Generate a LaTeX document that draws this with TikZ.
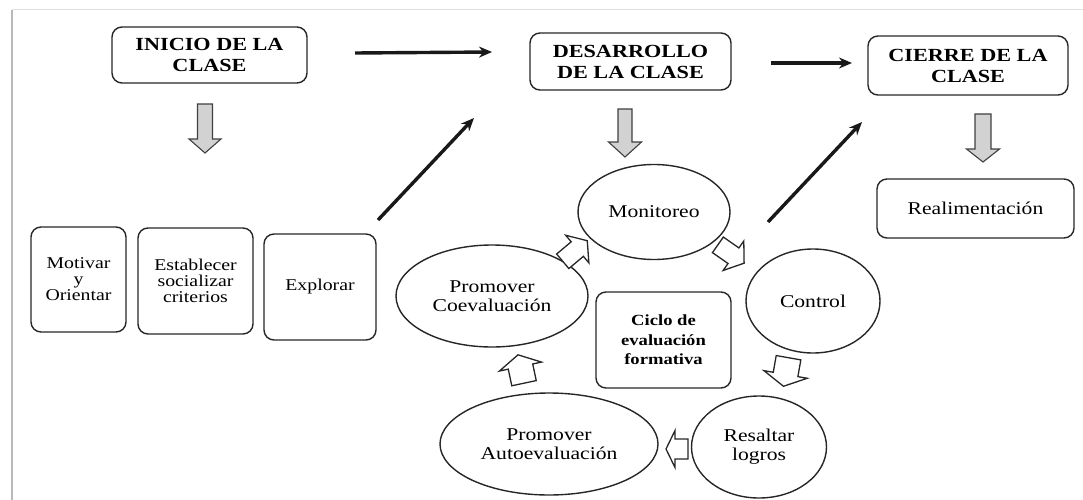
\documentclass[tikz,border=0pt]{standalone}
\usepackage{fontspec}
\setmainfont{Liberation Serif}[FakeStretch=1.2]
\usetikzlibrary{arrows.meta,shapes.geometric}
\newcommand\blkarrow[8]{% #1 style, #2 x, #3 y, #4 angle, #5 length, #6 shaft width, #7 head width, #8 head length
  \draw[#1,shift={(#2,#3)},rotate=#4] ({-#5/2},{-#6/2}) -- ({#5/2-#8},{-#6/2}) -- ({#5/2-#8},{-#7/2}) -- ({#5/2},0) -- ({#5/2-#8},{#7/2}) -- ({#5/2-#8},{#6/2}) -- ({-#5/2},{#6/2}) -- cycle;}
\begin{document}
\begin{tikzpicture}[x=1pt,y=-1pt,
  rbox/.style={draw=black!85, line width=1.4pt, rounded corners=10pt, inner sep=0pt, align=center, text=black, font=\fontsize{16.5}{16}\selectfont},
  title/.style={rbox, font=\bfseries\fontsize{18.5}{21}\selectfont},
  ell/.style={draw=black!85, line width=1.4pt, ellipse, inner sep=0pt, align=center, text=black, font=\fontsize{18}{19}\selectfont},
  flow/.style={line width=3.4pt, black!90, -{Stealth[length=13pt,width=11pt]}},
  grayarr/.style={draw=black!75, line width=1.1pt, fill=gray!35},
  hollow/.style={draw=black!85, line width=1.3pt, fill=white, line join=miter}
]
\useasboundingbox (0,0) rectangle (1083,500);
% frame
\draw[gray!25, line width=1pt] (12,10) -- (1083,10);
\draw[gray!55, line width=2.5pt] (12,10) -- (12,500);

% title boxes
\node[title, minimum width=195pt, minimum height=56pt] (inicio) at (209.5,55) {INICIO DE LA\\CLASE};
\node[title, minimum width=201pt, minimum height=57pt] (desarrollo) at (630.5,61.5) {DESARROLLO\\DE LA CLASE};
\node[title, minimum width=200pt, minimum height=59pt] (cierre) at (968,65.5) {CIERRE DE LA\\CLASE};

% lower boxes
\node[rbox, minimum width=197pt, minimum height=59pt, font=\fontsize{18}{19}\selectfont] (realim) at (975.5,208.5) {Realimentación};
\node[rbox, minimum width=95pt, minimum height=105pt] (motivar) at (78.5,279.5) {Motivar\\y\\Orientar};
\node[rbox, minimum width=115pt, minimum height=106pt] (establecer) at (195.5,281) {Establecer\\socializar\\criterios};
\node[rbox, minimum width=112pt, minimum height=106pt] (explorar) at (320,287) {Explorar};
\node[rbox, minimum width=135pt, minimum height=96pt, font=\bfseries\fontsize{15.5}{19.5}\selectfont] (ciclo) at (663.5,340) {Ciclo de\\evaluación\\formativa};

% ellipses
\node[ell, minimum width=152pt, minimum height=95pt] (monitoreo) at (654,212) {Monitoreo};
\node[ell, minimum width=134pt, minimum height=104pt] (control) at (813,301) {Control};
\node[ell, minimum width=135pt, minimum height=102pt] (resaltar) at (759,447) {Resaltar\\logros};
\node[ell, minimum width=218pt, minimum height=102pt] (autoev) at (549,444) {Promover\\Autoevaluación};
\node[ell, minimum width=192pt, minimum height=102pt] (coev) at (492,296) {Promover\\Coevaluación};

% black flow arrows
\coordinate (f1s) at (355,53);
\coordinate (f1e) at (492,52);
\coordinate (f2s) at (771,63);
\coordinate (f2e) at (852,63);
\coordinate (d1s) at (378,220);
\coordinate (d1e) at (474,118);
\coordinate (d2s) at (768,222);
\coordinate (d2e) at (862,122);
\draw[flow] (f1s) -- (f1e);
\draw[flow] (f2s) -- (f2e);
\draw[flow] (d1s) -- (d1e);
\draw[flow] (d2s) -- (d2e);

% gray block arrows
\blkarrow{grayarr}{205}{128.5}{-90}{49}{15}{32}{14}
\blkarrow{grayarr}{625}{133}{-90}{48}{14}{33}{15}
\blkarrow{grayarr}{983}{138}{-90}{48}{16}{33}{13}

% hollow cycle arrows
\blkarrow{hollow}{575}{251}{40}{32}{19}{36}{13}
\blkarrow{hollow}{731}{254}{-35}{32}{19}{36}{13}
\blkarrow{hollow}{786}{372}{-100}{29}{25}{44}{12}
\blkarrow{hollow}{677}{449}{180}{22}{20}{37}{9}
\blkarrow{hollow}{521}{369}{102}{29}{25}{43}{12}
\end{tikzpicture}
\end{document}
